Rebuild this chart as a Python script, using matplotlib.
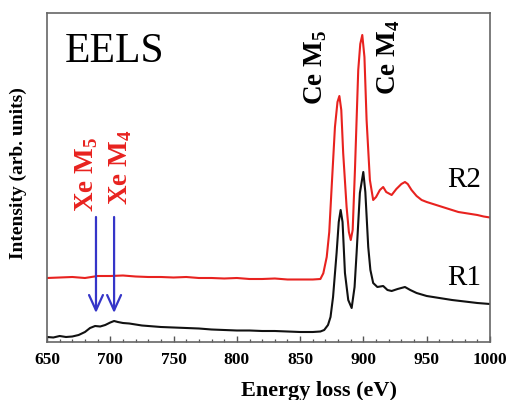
import matplotlib
matplotlib.use("Agg")
import matplotlib.pyplot as plt
from matplotlib.ticker import MultipleLocator

plt.rcParams['font.family'] = ['Liberation Serif', 'DejaVu Serif']
plt.rcParams['mathtext.fontset'] = 'custom'
plt.rcParams['mathtext.rm'] = 'Liberation Serif'
plt.rcParams['mathtext.bf'] = 'Liberation Serif:bold'

# R1 (black) spectrum, energy (eV) vs intensity (arb.)
r1_e = [650, 655, 660, 665, 670, 675, 680, 684, 688, 692, 696, 700, 703, 706, 710,
        715, 720, 725, 730, 740, 750, 760, 770, 780, 790, 800, 810, 820, 830, 840,
        850, 860, 866, 869, 872, 874, 876, 878.8, 880.5, 882, 883.5, 885.4, 888,
        890.7, 893, 894.6, 897.2, 899.9, 901.5, 903.8, 905.5, 907.7, 911, 915.6,
        919, 922.3, 927, 932.8, 937, 942, 950, 960, 970, 980, 990, 1000]
r1_i = [5, 4.5, 6, 5, 5.5, 7, 10, 14, 16, 15.5, 17, 19.5, 21, 20, 19,
        18.5, 17.5, 16.5, 16, 15, 14.5, 14, 13.5, 12.5, 12, 11.5, 11.5, 11, 11, 10.5,
        10, 10, 10.5, 12, 17, 25, 45, 89, 120, 132, 120, 69, 42,
        34, 55, 89, 149, 170, 150, 95, 72, 59, 55, 56,
        52, 51, 53, 55, 52, 49, 46, 44, 42, 40.5, 39, 38]

# R2 (red) spectrum
r2_e = [650, 660, 670, 680, 690, 700, 710, 720, 730, 740, 750, 760, 770, 780, 790,
        800, 810, 820, 830, 840, 850, 860, 866, 868.3, 871, 873, 874.9, 877.5, 879.5,
        881, 882.5, 884, 886.7, 888.5, 890, 891.5, 893.3, 895.9, 897.5, 899.1, 900.8,
        902.5, 905.1, 907.7, 910, 913, 915.6, 918, 922.3, 926, 930, 932.8, 935, 938,
        942, 946, 950, 955, 960, 965, 970, 975, 980, 985, 990, 995, 1000]
r2_i = [64, 64.5, 65, 64, 66, 66, 66.5, 65.5, 65, 65, 64.5, 65, 64, 64, 63.5,
        64, 63, 63, 63.5, 62.5, 62.5, 62.5, 63, 68.7, 85, 110, 155, 215, 240,
        246, 232, 189, 135, 110, 102, 112, 172, 272, 298, 307, 285,
        222, 162, 142, 145, 152, 155, 150, 147, 153, 158, 160, 158, 152,
        146, 142, 140, 138, 136, 134, 132, 130, 129, 128, 127, 125.5, 124.5]

xe_edges = [688.7, 703]
xe_labels = [r'Xe M$_\mathbf{5}$', r'Xe M$_\mathbf{4}$']
ce_labels = [r'Ce M$_\mathbf{5}$', r'Ce M$_\mathbf{4}$']

fig = plt.figure(figsize=(5.07, 4.0), dpi=100)
ax = fig.add_axes([47/507, 58/400, 443/507, 329/400])

ax.plot(r2_e, r2_i, color='#e8221f', lw=1.5)
ax.plot(r1_e, r1_i, color='#111111', lw=1.5)

ax.set_xlim(650, 1000)
ax.set_ylim(0, 329)
ax.set_yticks([])
ax.xaxis.set_major_locator(MultipleLocator(50))
ax.xaxis.set_minor_locator(MultipleLocator(10))
ax.tick_params(axis='x', which='major', direction='in', length=4.5, width=1.0,
               color='#555555', pad=7, labelsize=12.5)
ax.tick_params(axis='x', which='minor', direction='in', length=2.5, width=0.9,
               color='#555555')
for lab in ax.get_xticklabels():
    lab.set_fontweight('bold')
for sp in ax.spines.values():
    sp.set_color('#666666')
    sp.set_linewidth(1.2)

ax.set_xlabel('Energy loss (eV)', fontsize=16, fontweight='bold')
ax.xaxis.set_label_coords(0.613, -0.12)
ax.set_ylabel('Intensity (arb. units)', fontsize=14, fontweight='bold')
ax.yaxis.set_label_coords(-0.045, 0.515)

ax.text(664, 280, 'EELS', fontsize=30, va='baseline', ha='left')
ax.text(966, 155, 'R2', fontsize=21, va='baseline', ha='left')
ax.text(966, 57, 'R1', fontsize=21, va='baseline', ha='left')

ax.text(862.5, 237, ce_labels[0], rotation=90, fontsize=19.5, fontweight='bold',
        ha='center', va='bottom')
ax.text(920, 247, ce_labels[1], rotation=90, fontsize=19.5, fontweight='bold',
        ha='center', va='bottom')
ax.text(681.6, 130, xe_labels[0], rotation=90, fontsize=19.5, fontweight='bold',
        color='#e8221f', ha='center', va='bottom')
ax.text(708, 137, xe_labels[1], rotation=90, fontsize=19.5, fontweight='bold',
        color='#e8221f', ha='center', va='bottom')

for e in xe_edges:
    ax.annotate('', xy=(e, 29), xytext=(e, 125),
                arrowprops=dict(arrowstyle='->, head_width=0.5, head_length=1.1',
                                color='#3535c8', lw=1.6, mutation_scale=10,
                                shrinkA=0, shrinkB=0))

fig.savefig('out.png', dpi=100)
